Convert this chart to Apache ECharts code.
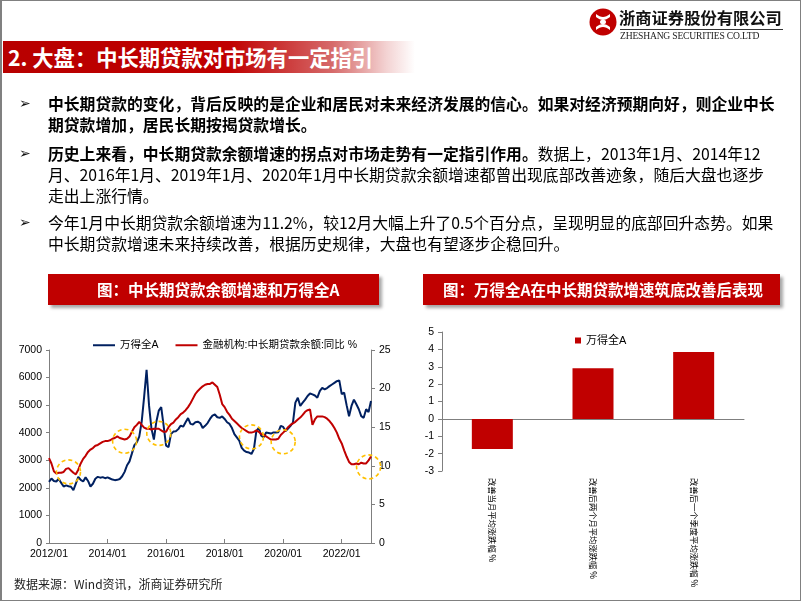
<!DOCTYPE html>
<html><head><meta charset="utf-8">
<script src="https://cdn.jsdelivr.net/npm/echarts@6/dist/echarts.min.js"></script>
<style>
html,body{margin:0;padding:0;background:#fff;}
#page{position:relative;width:802px;height:602px;overflow:hidden;font-family:"Noto Sans CJK SC","Noto Sans",sans-serif;color:#000;}
#chart{position:absolute;left:0;top:0;width:802px;height:602px;}
.abs{position:absolute;white-space:nowrap;}
.ln{position:absolute;left:48px;font-size:15.8px;line-height:21px;height:21px;white-space:nowrap;}
.mk{position:absolute;left:19px;font-family:"DejaVu Sans";font-size:14px;line-height:21px;color:#111;}
b{font-weight:700}
.hdr{position:absolute;top:274px;height:31px;background:#C00000;box-shadow:3px 3px 3px rgba(0,0,0,0.35);color:#fff;font-weight:700;font-size:15.5px;line-height:31px;white-space:nowrap;box-sizing:border-box;}
#frame{position:absolute;left:0;top:0;width:801px;height:601px;border:1px solid #808080;border-left-width:2px;box-sizing:border-box;pointer-events:none;}
#banner{position:absolute;left:3px;top:41px;width:412px;height:32px;background:linear-gradient(90deg,#b80000 0%,#c00000 55%,#d66a6a 80%,#f3d2d2 93%,#ffffff 100%);}
#banner span{position:absolute;left:5px;top:0;line-height:32px;color:#fff;font-weight:700;font-size:21.3px;white-space:nowrap;}
</style></head>
<body>
<div id="page">
  <div id="chart"></div>
  <div id="banner"><span>2. 大盘：中长期贷款对市场有一定指引</span></div>
  <svg class="abs" style="left:589px;top:7px" width="28" height="30" viewBox="0 0 28 30">
    <circle cx="14" cy="15" r="13.5" fill="#C00000"/>
    <path d="M7 7 C12 11,16 11,21 7 L21 10 C16 14,12 14,7 10 Z" fill="#fff"/>
    <path d="M7 20 C12 16,16 16,21 20 L21 23 C16 19,12 19,7 23 Z" fill="#fff"/>
    <ellipse cx="14" cy="15" rx="3" ry="2.2" fill="#fff"/>
  </svg>
  <div class="abs" style="left:619px;top:6px;font-size:16.3px;line-height:22px;font-weight:700;color:#111;">浙商证券股份有限公司</div>
  <div class="abs" style="left:620px;top:29px;width:163px;height:1px;background:#333;"></div>
  <div class="abs" style="left:620px;top:30px;font-family:'Liberation Serif',serif;font-size:9.6px;line-height:12px;color:#222;letter-spacing:-0.2px;">ZHESHANG SECURITIES CO.LTD</div>

  <div class="mk" style="top:92.5px">&#10146;</div>
  <div class="ln" style="top:92.5px"><b>中长期贷款的变化，背后反映的是企业和居民对未来经济发展的信心。如果对经济预期向好，则企业中长</b></div>
  <div class="ln" style="top:113.5px"><b>期贷款增加，居民长期按揭贷款增长。</b></div>
  <div class="mk" style="top:142.5px">&#10146;</div>
  <div class="ln" style="top:142.5px"><b>历史上来看，中长期贷款余额增速的拐点对市场走势有一定指引作用。</b>数据上，2013年1月、2014年12</div>
  <div class="ln" style="top:163.5px">月、2016年1月、2019年1月、2020年1月中长期贷款余额增速都曾出现底部改善迹象，随后大盘也逐步</div>
  <div class="ln" style="top:184.5px">走出上涨行情。</div>
  <div class="mk" style="top:211.5px">&#10146;</div>
  <div class="ln" style="top:211.5px">今年1月中长期贷款余额增速为11.2%，较12月大幅上升了0.5个百分点，呈现明显的底部回升态势。如果</div>
  <div class="ln" style="top:232.5px">中长期贷款增速未来持续改善，根据历史规律，大盘也有望逐步企稳回升。</div>

  <div class="hdr" style="left:48px;width:331px;padding-left:49px;">图：中长期贷款余额增速和万得全A</div>
  <div class="hdr" style="left:423px;width:357px;padding-left:20px;">图：万得全A在中长期贷款增速筑底改善后表现</div>

  <div class="abs" style="left:14px;top:576px;font-size:12px;line-height:16px;color:#222;">数据来源：Wind资讯，浙商证券研究所</div>
  <div id="frame"></div>
</div>
<script>
// ---- data ----
const months = [];
for (let y = 2012; y <= 2023; y++) {
  for (let m = 1; m <= 12; m++) {
    if (y === 2023 && m > 1) break;
    months.push(y + '/' + (m < 10 ? '0' + m : '' + m));
  }
}
// 万得全A (left axis), monthly 2012/01 - 2023/01
const windA = [
  2220,2340,2250,2230,2330,2180,2050,2090,2060,2040,1920,2150,
  2400,2290,2230,2380,2250,2050,2150,2330,2400,2370,2390,2350,
  2380,2340,2300,2280,2290,2320,2420,2580,2820,2960,3250,3550,
  3650,3860,4400,5300,6280,5000,4150,3750,4400,4800,4930,4250,
  3530,3480,3950,4040,4050,4130,4260,4220,4380,4530,4320,4300,
  4380,4400,4350,4170,4250,4350,4500,4620,4660,4560,4540,4590,
  4500,4380,4320,4170,3950,3830,3710,3450,3350,3300,3280,3230,
  3410,4060,4180,3890,3830,4010,3990,3970,4010,4010,4020,4250,
  4210,4060,4150,4250,4370,5090,5270,4970,5090,5200,5330,5420,
  5390,5350,5270,5510,5630,5570,5620,5690,5750,5810,5870,5900,
  5400,5450,5000,4600,4970,5200,5030,4850,4600,4540,4850,4750,
  5150
];
// 金融机构:中长期贷款余额:同比 % (right axis)
const loanYoY = [
  11.0,10.3,9.3,9.0,9.1,9.1,9.2,9.6,9.7,9.4,9.1,8.9,
  9.5,10.3,10.9,11.3,11.8,12.1,12.3,12.6,12.7,12.9,13.1,13.2,
  13.2,13.3,13.5,13.6,13.8,13.6,13.5,13.4,13.5,13.8,14.4,15.0,
  15.3,15.7,15.3,14.95,14.8,14.8,14.7,14.8,14.8,14.8,14.6,14.4,
  14.4,15.0,15.4,15.6,16.0,16.3,16.7,16.9,17.2,17.6,18.1,18.7,
  19.3,19.7,20.0,20.3,20.5,20.6,20.6,20.8,20.5,20.2,19.2,18.0,
  17.6,17.0,16.6,16.1,15.8,15.5,15.2,14.9,14.7,14.5,14.3,14.3,
  14.4,14.6,14.4,14.1,14.0,13.8,13.6,13.4,13.4,13.4,13.5,14.0,
  14.3,14.6,15.0,15.3,15.5,15.7,16.0,16.25,16.6,17.0,17.2,17.3,
  15.3,16.0,16.4,16.4,16.4,16.3,16.1,15.8,15.4,14.9,14.3,13.5,
  12.9,12.0,11.2,10.5,10.2,10.2,10.3,10.2,10.4,10.3,10.3,10.7,
  11.2
];
// dashed yellow annotation circles: [month, 万得全A-axis value]
const circleMarks = [
  ['2012/09', 2580], ['2014/08', 3690], ['2015/10', 3975],
  ['2018/12', 3850], ['2020/01', 3670], ['2022/12', 2760]
];
// bar chart
const barCats = ['改善当月平均涨跌幅 %', '改善后两个月平均涨跌幅 %', '改善后一个季度平均涨跌幅 %'];
const barVals = [-1.73, 2.92, 3.85];
const leftTicks = {min: 0, max: 7000, interval: 1000};
const rightTicks = {min: 0, max: 25, interval: 5};
const barTicks = {min: -3, max: 5, interval: 1};

const axisGray = '#7f7f7f';
const FONT = '"Liberation Sans", Arial, "Noto Sans CJK SC", sans-serif';
const plain = function (v) { return String(v); };
const chart = echarts.init(document.getElementById('chart'), null, {renderer: 'canvas'});
chart.setOption({
  animation: false,
  textStyle: {fontFamily: FONT},
  legend: [
    {data: ['万得全A', '金融机构:中长期贷款余额:同比 %'], left: 88, top: 335, icon: 'rect',
     itemWidth: 22, itemHeight: 2, itemGap: 17, textStyle: {fontSize: 10.5, color: '#000', fontFamily: FONT}},
    {data: ['万得全A涨跌幅'], left: 570, top: 330, icon: 'rect', itemWidth: 6, itemHeight: 6,
     formatter: function () { return '万得全A'; }, textStyle: {fontSize: 11, color: '#000', fontFamily: FONT}}
  ],
  grid: [
    {left: 49, top: 350, width: 322, height: 193},
    {left: 442, top: 332, width: 302, height: 139}
  ],
  xAxis: [
    {type: 'category', gridIndex: 0, data: months, boundaryGap: false,
     axisLine: {lineStyle: {color: axisGray}},
     axisTick: {inside: true, length: 4, interval: 23, lineStyle: {color: axisGray}},
     axisLabel: {interval: 23, fontSize: 10.5, color: '#000', margin: 6},
     splitLine: {show: false}},
    {type: 'category', gridIndex: 1, data: barCats,
     axisLine: {onZero: true, lineStyle: {color: axisGray}},
     axisTick: {inside: true, length: 4, lineStyle: {color: axisGray}},
     axisLabel: {show: false}, splitLine: {show: false}},
    {type: 'category', gridIndex: 1, data: barCats, position: 'bottom',
     axisLine: {show: false, onZero: false}, axisTick: {show: false},
     axisLabel: {rotate: -90, fontSize: 8.3, color: '#000', margin: 7, fontFamily: '"Noto Sans CJK SC", sans-serif'},
     splitLine: {show: false}}
  ],
  yAxis: [
    Object.assign({type: 'value', gridIndex: 0, position: 'left',
     axisLine: {show: true, lineStyle: {color: axisGray}},
     axisTick: {show: true, length: 3, lineStyle: {color: axisGray}},
     axisLabel: {fontSize: 10.5, color: '#000', margin: 7, formatter: plain},
     splitLine: {show: false}}, leftTicks),
    Object.assign({type: 'value', gridIndex: 0, position: 'right',
     axisLine: {show: true, lineStyle: {color: axisGray}},
     axisTick: {show: true, length: 4, lineStyle: {color: axisGray}},
     axisLabel: {fontSize: 10.5, color: '#000', margin: 8, formatter: plain},
     splitLine: {show: false}}, rightTicks),
    Object.assign({type: 'value', gridIndex: 1, position: 'left',
     axisLine: {show: true, lineStyle: {color: axisGray}},
     axisTick: {show: true, length: 4, lineStyle: {color: axisGray}},
     axisLabel: {fontSize: 10.5, color: '#000', margin: 8, formatter: plain},
     splitLine: {show: false}}, barTicks)
  ],
  series: [
    {name: '万得全A', type: 'line', xAxisIndex: 0, yAxisIndex: 0, data: windA,
     symbol: 'none', color: '#002060', lineStyle: {width: 2, color: '#002060'},
     markPoint: {silent: true, symbol: 'circle', symbolSize: 24, label: {show: false},
       itemStyle: {color: 'rgba(0,0,0,0)', borderColor: '#FFC000', borderWidth: 1.6, borderType: [4, 3]},
       data: circleMarks.map(function (c) { return {coord: [c[0], c[1]]}; })}},
    {name: '金融机构:中长期贷款余额:同比 %', type: 'line', xAxisIndex: 0, yAxisIndex: 1, data: loanYoY,
     symbol: 'none', color: '#C00000', lineStyle: {width: 2, color: '#C00000'}},
    {name: '万得全A涨跌幅', type: 'bar', xAxisIndex: 1, yAxisIndex: 2, data: barVals,
     barWidth: 41, color: '#C00000', itemStyle: {color: '#C00000'}}
  ]
});
</script>
</body></html>
